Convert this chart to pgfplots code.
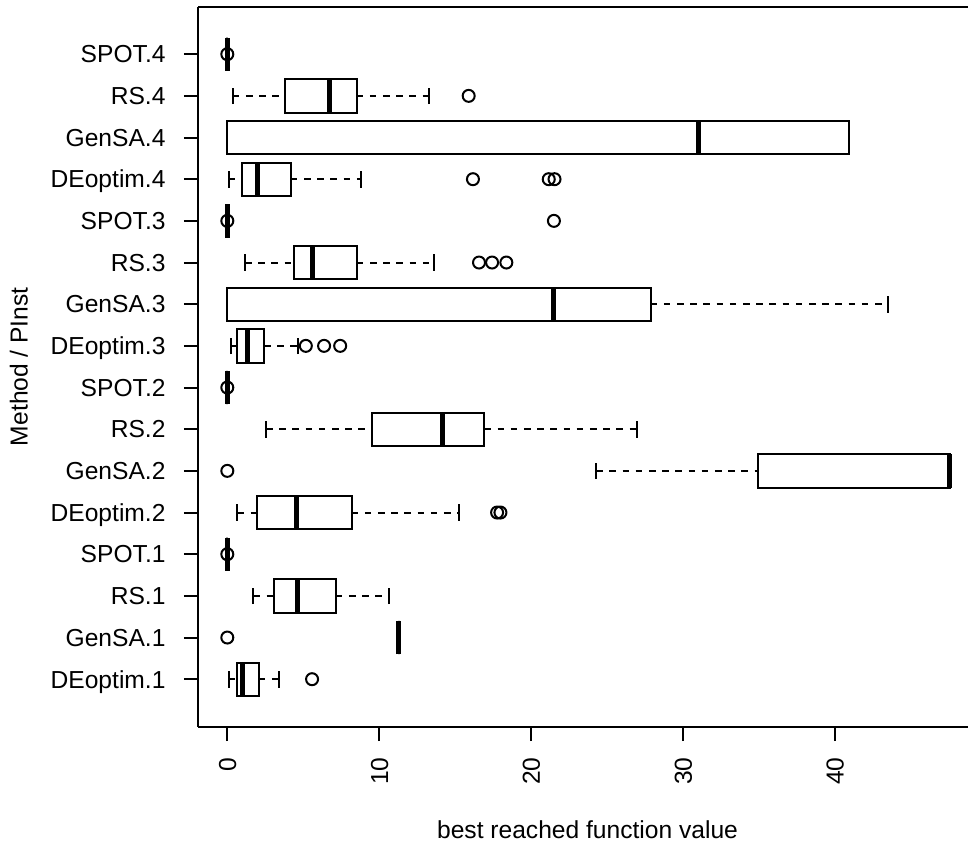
\documentclass[border=0pt]{standalone}
\usepackage{pgfplots}
\pgfplotsset{compat=1.18}
\usepgfplotslibrary{statistics}
\usepackage{fontspec}
\setmainfont{Liberation Sans}
\begin{document}
\begin{tikzpicture}
\begin{axis}[
  scale only axis, width=384.85pt, height=360pt,
  xmin=-1.91, xmax=48.76, ymin=-0.14, ymax=17.14,
  axis x line*=bottom, axis y line*=left,
  axis line style={line width=1pt, black},
  tick align=outside, major tick length=7.2pt,
  tick style={black, line width=1pt},
  xtick={0,10,20,30,40},
  ytick={1,2,3,4,5,6,7,8,9,10,11,12,13,14,15,16},
  yticklabels={DEoptim.1,GenSA.1,RS.1,SPOT.1,DEoptim.2,GenSA.2,RS.2,SPOT.2,DEoptim.3,GenSA.3,RS.3,SPOT.3,DEoptim.4,GenSA.4,RS.4,SPOT.4},
  /pgf/number format/assume math mode=true,
  tick label style={font=\fontsize{12.3}{14}\selectfont},
  label style={font=\fontsize{12.3}{14}\selectfont},
  xticklabel style={xshift=4.4pt, yshift=-8pt, rotate=90, anchor=base east, inner sep=0pt},
  yticklabel style={anchor=base east, xshift=-9pt, yshift=-4.4pt, inner sep=0pt},
  xlabel={best reached function value},
  ylabel={Method / PInst},
  xlabel style={at={(axis description cs:0.5057,-0.15458)}, anchor=base, inner sep=0pt},
  ylabel style={at={(axis description cs:-0.2219,0.5)}, rotate=0, anchor=base, inner sep=0pt},
  boxplot/draw direction=x,
  boxplot/box extend=0.8,
  boxplot/whisker extend=0.4,
  boxplot/every median/.style={line width=2.5pt},
  boxplot/draw/lower whisker/.code={%
    \draw[dash pattern=on 3.3pt off 3.3pt] (boxplot box cs:\pgfplotsboxplotvalue{lower whisker},0.5) -- (boxplot box cs:\pgfplotsboxplotvalue{lower quartile},0.5);
    \draw (boxplot whisker cs:\pgfplotsboxplotvalue{lower whisker},0) -- (boxplot whisker cs:\pgfplotsboxplotvalue{lower whisker},1);
  },
  boxplot/draw/upper whisker/.code={%
    \draw[dash pattern=on 3.3pt off 3.3pt] (boxplot box cs:\pgfplotsboxplotvalue{upper quartile},0.5) -- (boxplot box cs:\pgfplotsboxplotvalue{upper whisker},0.5);
    \draw (boxplot whisker cs:\pgfplotsboxplotvalue{upper whisker},0) -- (boxplot whisker cs:\pgfplotsboxplotvalue{upper whisker},1);
  },
  bp/.style={black, line width=1pt, mark=o, mark size=3pt, mark options={solid, line width=1pt}},
]
% 1 DEoptim.1
\addplot[bp, boxplot prepared={draw position=1, lower whisker=0.09, lower quartile=0.62, median=1.01, upper quartile=2.07, upper whisker=3.43}] coordinates {(0,5.58)};
% 2 GenSA.1
\addplot[bp, boxplot prepared={draw position=2, lower whisker=11.27, lower quartile=11.27, median=11.27, upper quartile=11.27, upper whisker=11.27}] coordinates {(0,0)};
% 3 RS.1
\addplot[bp, boxplot prepared={draw position=3, lower whisker=1.72, lower quartile=3.06, median=4.62, upper quartile=7.14, upper whisker=10.66}] coordinates {};
% 4 SPOT.1
\addplot[bp, boxplot prepared={draw position=4, lower whisker=0, lower quartile=0, median=0, upper quartile=0, upper whisker=0}] coordinates {(0,0)};
% 5 DEoptim.2
\addplot[bp, boxplot prepared={draw position=5, lower whisker=0.66, lower quartile=1.94, median=4.53, upper quartile=8.18, upper whisker=15.27}] coordinates {(0,17.76) (0,17.98)};
% 6 GenSA.2
\addplot[bp, boxplot prepared={draw position=6, lower whisker=24.28, lower quartile=34.94, median=47.56, upper quartile=47.56, upper whisker=47.56}] coordinates {(0,0)};
% 7 RS.2
\addplot[bp, boxplot prepared={draw position=7, lower whisker=2.55, lower quartile=9.52, median=14.15, upper quartile=16.92, upper whisker=26.99}] coordinates {};
% 8 SPOT.2
\addplot[bp, boxplot prepared={draw position=8, lower whisker=0, lower quartile=0, median=0, upper quartile=0, upper whisker=0}] coordinates {(0,0)};
% 9 DEoptim.3
\addplot[bp, boxplot prepared={draw position=9, lower whisker=0.22, lower quartile=0.66, median=1.32, upper quartile=2.42, upper whisker=4.68}] coordinates {(0,5.17) (0,6.37) (0,7.43)};
% 10 GenSA.3
\addplot[bp, boxplot prepared={draw position=10, lower whisker=0, lower quartile=0, median=21.45, upper quartile=27.87, upper whisker=43.47}] coordinates {};
% 11 RS.3
\addplot[bp, boxplot prepared={draw position=11, lower whisker=1.17, lower quartile=4.40, median=5.58, upper quartile=8.53, upper whisker=13.63}] coordinates {(0,16.57) (0,17.43) (0,18.37)};
% 12 SPOT.3
\addplot[bp, boxplot prepared={draw position=12, lower whisker=0, lower quartile=0, median=0, upper quartile=0, upper whisker=0}] coordinates {(0,0) (0,21.5)};
% 13 DEoptim.4
\addplot[bp, boxplot prepared={draw position=13, lower whisker=0.09, lower quartile=0.95, median=1.98, upper quartile=4.18, upper whisker=8.79}] coordinates {(0,16.17) (0,21.16) (0,21.54)};
% 14 GenSA.4
\addplot[bp, boxplot prepared={draw position=14, lower whisker=0, lower quartile=0, median=31.03, upper quartile=40.91, upper whisker=40.91}] coordinates {};
% 15 RS.4
\addplot[bp, boxplot prepared={draw position=15, lower whisker=0.36, lower quartile=3.78, median=6.75, upper quartile=8.51, upper whisker=13.27}] coordinates {(0,15.89)};
% 16 SPOT.4
\addplot[bp, boxplot prepared={draw position=16, lower whisker=0, lower quartile=0, median=0, upper quartile=0, upper whisker=0}] coordinates {(0,0)};
\coordinate (ll) at (rel axis cs:0,0);
\coordinate (ur) at (rel axis cs:1,1);
\end{axis}
\draw[line width=1pt, black] (ll |- ur) -- (ur);
\path (ur) ++(0,3.35pt) coordinate (b);
\path (ll) ++(-99.15pt,-59.15pt) coordinate (a);
\pgfresetboundingbox
\path[use as bounding box] (a) rectangle (b);
\end{tikzpicture}
\end{document}
